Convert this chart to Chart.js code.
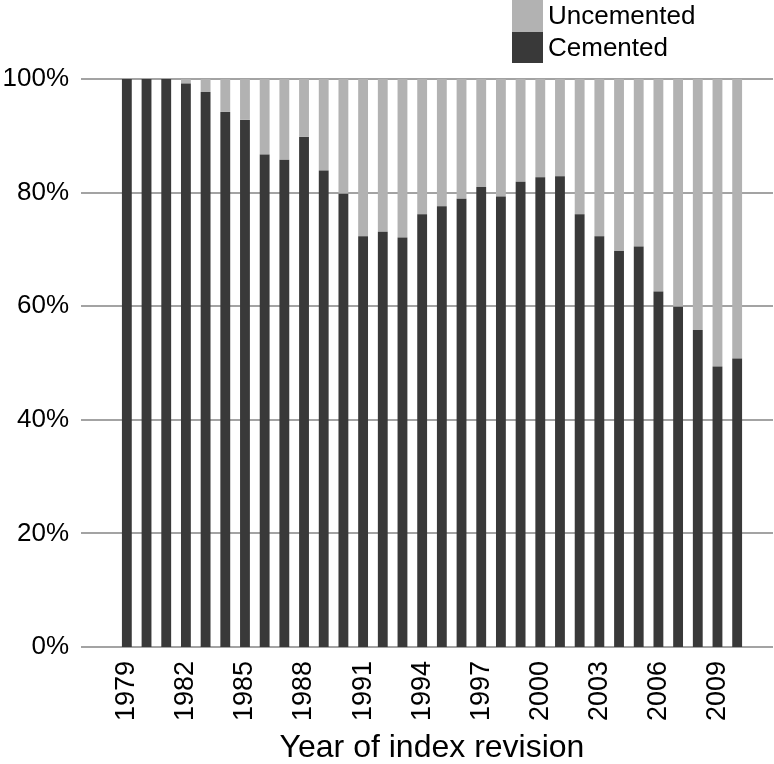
<!DOCTYPE html>
<html>
<head>
<meta charset="utf-8">
<script src="https://cdn.jsdelivr.net/npm/chart.js@4"></script>
<style>
  html, body { margin: 0; padding: 0; background: #fff; }
  #wrap { position: relative; width: 774px; height: 764px; }
  #legend { position: absolute; left: 512px; top: 0px; font-family: "Liberation Sans", Arial, sans-serif; font-size: 26px; color: #000; }
  .item { display: flex; align-items: center; height: 31.5px; }
  .box { width: 31px; height: 31.5px; margin-right: 5px; }
</style>
</head>
<body>
<div id="wrap">
  <canvas id="c" width="774" height="764"></canvas>
  <div id="legend">
    <div class="item"><div class="box" style="background:#b2b2b2"></div><span>Uncemented</span></div>
    <div class="item"><div class="box" style="background:#393939"></div><span>Cemented</span></div>
  </div>
</div>
<script>
const years = [1979,1980,1981,1982,1983,1984,1985,1986,1987,1988,1989,1990,1991,1992,1993,1994,
               1995,1996,1997,1998,1999,2000,2001,2002,2003,2004,2005,2006,2007,2008,2009,2010];
const cemented = [100,100,100,99.2,97.7,94.2,92.8,86.7,85.8,89.8,83.9,79.8,72.3,73.1,72.1,76.2,
                  77.6,78.9,81.0,79.3,81.9,82.7,82.9,76.2,72.3,69.7,70.5,62.6,59.9,55.8,49.4,50.8];
const uncemented = cemented.map(v => +(100 - v).toFixed(1));
const yTicks = [0,20,40,60,80,100];

const gridPlugin = {
  id: 'extGrid',
  beforeDatasetsDraw(chart) {
    const ctx = chart.ctx, y = chart.scales.y, a = chart.chartArea;
    ctx.save();
    ctx.strokeStyle = '#a3a3a3';
    ctx.lineWidth = 2;
    yTicks.forEach(t => {
      const py = Math.round(y.getPixelForValue(t));
      ctx.beginPath();
      ctx.moveTo(a.left - 36, py);
      ctx.lineTo(a.right + 26, py);
      ctx.stroke();
    });
    ctx.restore();
  }
};

new Chart(document.getElementById('c'), {
  type: 'bar',
  data: {
    labels: years.map(String),
    datasets: [
      { label: 'Cemented', data: cemented, backgroundColor: '#393939', barPercentage: 0.5, categoryPercentage: 1 },
      { label: 'Uncemented', data: uncemented, backgroundColor: '#b2b2b2', barPercentage: 0.5, categoryPercentage: 1 }
    ]
  },
  options: {
    responsive: false,
    animation: false,
    layout: { padding: { left: 0, right: 27, top: 79, bottom: 0 } },
    plugins: { legend: { display: false }, tooltip: { enabled: false } },
    scales: {
      x: {
        stacked: true,
        afterFit: s => { s.height = 117; s.paddingLeft = 0; s.paddingRight = 0; },
        grid: { display: false, drawTicks: false },
        border: { display: false },
        ticks: {
          autoSkip: false,
          minRotation: 90, maxRotation: 90,
          padding: 14,
          color: '#000',
          font: { family: '"Liberation Sans", Arial, sans-serif', size: 27 },
          callback: function(v, i) { return i % 3 === 0 ? this.getLabelForValue(v) : ''; }
        },
        title: {
          display: true, text: 'Year of index revision', color: '#000',
          font: { family: '"Liberation Sans", Arial, sans-serif', size: 32 },
          padding: { top: 2, bottom: -3 }
        }
      },
      y: {
        stacked: true,
        min: 0, max: 100,
        afterFit: s => { s.width = 117; },
        grid: { display: false, drawTicks: false },
        border: { display: false },
        ticks: {
          stepSize: 20,
          padding: 48,
          color: '#000',
          font: { family: '"Liberation Sans", Arial, sans-serif', size: 26 },
          callback: v => v + '%'
        }
      }
    }
  },
  plugins: [gridPlugin]
});
</script>
</body>
</html>
